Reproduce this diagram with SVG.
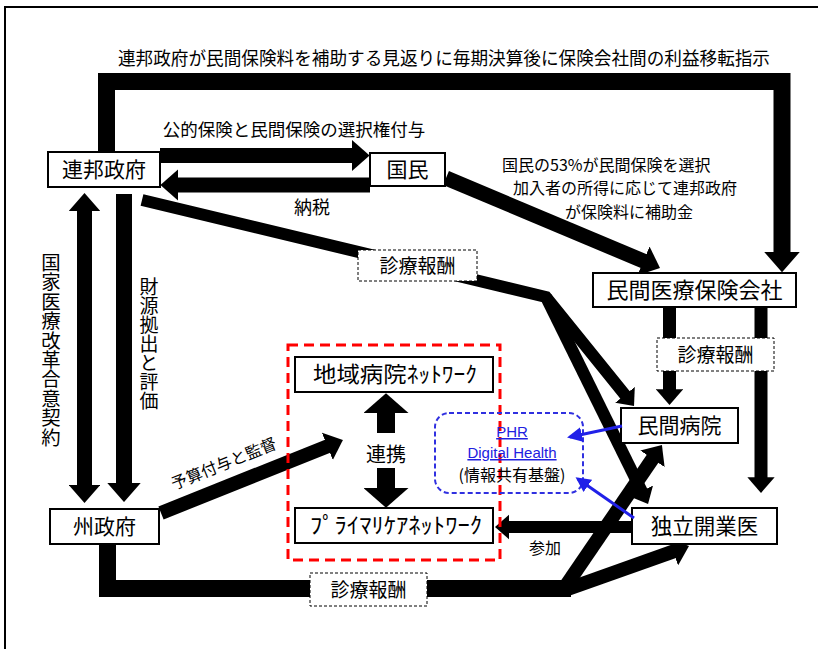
<svg xmlns="http://www.w3.org/2000/svg" width="818" height="649" viewBox="0 0 818 649">
<style>
.t{font-family:"Noto Sans CJK JP","Noto Sans",sans-serif;fill:#000}
.l{font-family:"Liberation Sans","Noto Sans CJK JP",sans-serif}
.v{writing-mode:vertical-rl;text-orientation:upright}
.box{fill:#fff;stroke:#000;stroke-width:2}
.dbox{fill:#fff;stroke:#000;stroke-width:1;stroke-dasharray:3 2}
.c{fill:none;stroke:#000;stroke-linejoin:miter}
.cb{fill:none;stroke:#2020e8;stroke-width:3}
</style>
<defs>
<marker id="ah" viewBox="0 0 10 10" refX="3" refY="5" markerWidth="1.2" markerHeight="2.1" orient="auto-start-reverse" markerUnits="strokeWidth" preserveAspectRatio="none"><path d="M0,0 L10,5 L0,10 z" fill="#000"/></marker>
<marker id="ahbig" viewBox="0 0 10 10" refX="3" refY="5" markerWidth="1.1" markerHeight="2.5" orient="auto" markerUnits="strokeWidth" preserveAspectRatio="none"><path d="M0,0 L10,5 L0,10 z" fill="#000"/></marker>
<marker id="ahb" viewBox="0 0 10 10" refX="8" refY="5" markerWidth="5" markerHeight="5" orient="auto" markerUnits="strokeWidth" preserveAspectRatio="none"><path d="M0,0 L10,5 L0,10 z" fill="#2020e8"/></marker>
</defs>
<rect width="818" height="649" fill="#fff"/>
<path d="M5,649 V7 H818" fill="none" stroke="#000" stroke-width="2"/>

<text class="t" x="444" y="65" font-size="18" text-anchor="middle" textLength="652" lengthAdjust="spacingAndGlyphs">連邦政府が民間保険料を補助する見返りに毎期決算後に保険会社間の利益移転指示</text>
<text class="t" x="294" y="136" font-size="17.5" text-anchor="middle">公的保険と民間保険の選択権付与</text>
<text class="t" x="312" y="214" font-size="18" text-anchor="middle">納税</text>
<text class="t" font-size="16"><tspan x="502" y="170.5">国民の53%が民間保険を選択</tspan><tspan x="513" y="194">加入者の所得に応じて連邦政府</tspan><tspan x="565" y="217.5">が保険料に補助金</tspan></text>
<text class="t v" x="51" y="253" font-size="19.4">国家医療改革合意契約</text>
<text class="t v" x="149" y="277" font-size="19">財源拠出と評価</text>
<text class="t" font-size="16" text-anchor="middle" transform="translate(226,469) rotate(-22)">予算付与と監督</text>
<text class="t" x="386" y="462" font-size="20" text-anchor="middle">連携</text>
<text class="t" x="545" y="554" font-size="16" text-anchor="middle" fill="#333">参加</text>

<g id="connectors">
<path class="c" d="M106.5,152 V81.5 H782 V258" stroke-width="17" marker-end="url(#ah)"/>
<path class="c" d="M160,155.5 H357" stroke-width="15" marker-end="url(#ah)"/>
<path class="c" d="M370,185 H173" stroke-width="15" marker-end="url(#ah)"/>
<path class="c" d="M446,178 L648.4,263.1" stroke-width="15" marker-end="url(#ah)"/>
<path class="c" d="M142,200 L546,297 L627.7,398.2" stroke-width="12" marker-end="url(#ah)"/>
<path class="c" d="M546,297 L643.6,495" stroke-width="12" marker-end="url(#ah)"/>
<path class="c" d="M84.5,205.6 V490.4" stroke-width="15" marker-start="url(#ah)" marker-end="url(#ah)"/>
<path class="c" d="M124,194 V488.6" stroke-width="16" marker-end="url(#ah)"/>
<path class="c" d="M161,513 L332,444.4" stroke-width="14" marker-end="url(#ah)"/>
<path class="c" d="M386,433 V407" stroke-width="18" marker-end="url(#ahbig)"/>
<path class="c" d="M386,468 V494" stroke-width="18" marker-end="url(#ahbig)"/>
<path class="c" d="M669.5,307 V394" stroke-width="13" marker-end="url(#ah)"/>
<path class="c" d="M761,307 V482" stroke-width="13" marker-end="url(#ah)"/>
<path class="c" d="M632,527 H505" stroke-width="12" marker-end="url(#ah)"/>
<path class="c" d="M107.5,544 V588.5 H571" stroke-width="17"/>
<path class="c" d="M563,590 L655.3,454.7" stroke-width="14" marker-end="url(#ah)"/>
<path class="c" d="M565,590 L677.9,549.9" stroke-width="14" marker-end="url(#ah)"/>
</g>

<g id="fed"><rect class="box" x="48" y="152" width="112" height="35"/><text class="t" x="104" y="177" font-size="21" text-anchor="middle">連邦政府</text></g>
<g id="kokumin"><rect class="box" x="370" y="153" width="75" height="33"/><text class="t" x="407.5" y="177" font-size="21" text-anchor="middle">国民</text></g>
<g id="state"><rect class="box" x="50" y="509" width="109" height="35"/><text class="t" x="104.5" y="534" font-size="21" text-anchor="middle">州政府</text></g>
<g id="insurer"><rect class="box" x="593" y="273" width="203" height="34"/><text class="t" x="694.5" y="298" font-size="22" text-anchor="middle">民間医療保険会社</text></g>
<g id="hospital"><rect class="box" x="621" y="408" width="117" height="35"/><text class="t" x="679.5" y="433" font-size="21" text-anchor="middle">民間病院</text></g>
<g id="independent"><rect class="box" x="632" y="508" width="145" height="36"/><text class="t" x="704.5" y="534" font-size="21.5" text-anchor="middle">独立開業医</text></g>
<g id="regional-net"><rect class="box" x="295" y="357" width="198" height="35"/><text class="t" x="395" y="382" font-size="22" text-anchor="middle" textLength="164" lengthAdjust="spacingAndGlyphs">地域病院ﾈｯﾄﾜｰｸ</text></g>
<g id="primary-net"><rect class="box" x="295" y="508" width="198" height="35"/><text class="t" x="396" y="533" font-size="22" text-anchor="middle" textLength="172" lengthAdjust="spacingAndGlyphs">ﾌﾟﾗｲﾏﾘｹｱﾈｯﾄﾜｰｸ</text></g>
<g id="fee-fed"><rect class="dbox" x="358" y="250" width="119" height="31"/><text class="t" x="417.5" y="273" font-size="19" text-anchor="middle">診療報酬</text></g>
<g id="fee-ins"><rect class="dbox" x="657" y="338" width="117" height="33"/><text class="t" x="715.5" y="362" font-size="19" text-anchor="middle">診療報酬</text></g>
<g id="fee-state"><rect class="dbox" x="310" y="573" width="117" height="33"/><text class="t" x="368.5" y="597" font-size="19" text-anchor="middle">診療報酬</text></g>
<g id="care-cluster"><rect x="288" y="345" width="212" height="215" fill="none" stroke="#ff0000" stroke-width="3" stroke-dasharray="10 6"/></g>
<g id="phr"><rect x="435" y="413" width="148" height="80" rx="14" fill="none" stroke="#3030e0" stroke-width="2" stroke-dasharray="5 3"/>
<text class="l" x="512" y="437" font-size="15" text-anchor="middle" fill="#2020e0" text-decoration="underline">PHR</text>
<text class="l" x="512" y="458" font-size="15" text-anchor="middle" fill="#2020e0" text-decoration="underline">Digital Health</text>
<text class="t" x="512" y="481" font-size="16" text-anchor="middle">(情報共有基盤)</text></g>
<g id="phr-links">
<path class="cb" d="M622,426 L570,437" marker-end="url(#ahb)"/>
<path class="cb" d="M634,518 L578,479" marker-end="url(#ahb)"/>
</g>
</svg>
